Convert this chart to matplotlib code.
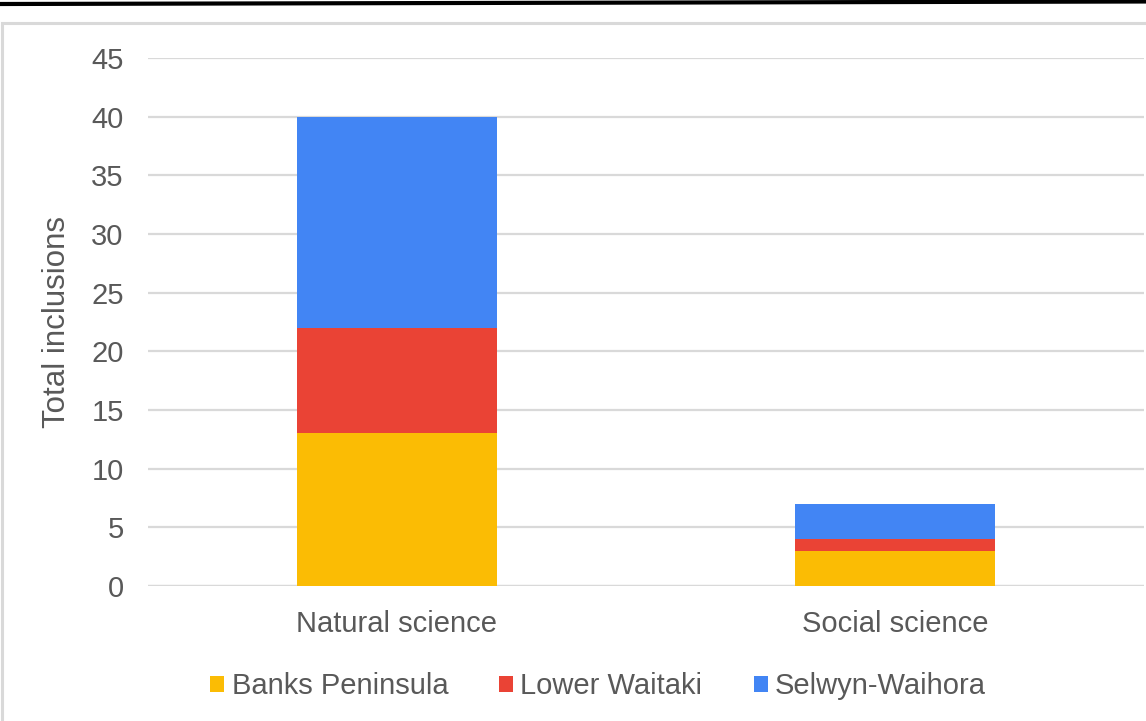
import matplotlib.pyplot as plt
from matplotlib.patches import Patch, Rectangle
from matplotlib.lines import Line2D

categories = ["Natural science", "Social science"]
banks_peninsula = [13, 3]
lower_waitaki = [9, 1]
selwyn_waihora = [18, 3]

series = [
    ("Banks Peninsula", banks_peninsula, "#FBBC04"),
    ("Lower Waitaki", lower_waitaki, "#EA4335"),
    ("Selwyn-Waihora", selwyn_waihora, "#4285F4"),
]

W, H = 1146, 721
text_grey = "#595959"
grid_grey = "#d9d9d9"

plt.rcParams["font.family"] = ["Liberation Sans", "DejaVu Sans"]
plt.rcParams["font.size"] = 21

fig = plt.figure(figsize=(W / 100, H / 100), dpi=100)
ax = fig.add_axes([148 / W, 1 - 586 / H, 996 / W, 528 / H])

x = range(len(categories))
bottom = [0] * len(categories)
for name, vals, color in series:
    ax.bar(x, vals, width=0.4, bottom=bottom, color=color, label=name, zorder=3)
    bottom = [b + v for b, v in zip(bottom, vals)]

ax.set_xlim(-0.5, 1.5)
ax.set_ylim(0, 45)
ax.set_yticks(range(0, 46, 5))
ax.set_xticks(list(x))
ax.set_xticklabels(categories)
ax.yaxis.grid(True, color=grid_grey, linewidth=1.6, zorder=0)
ax.set_axisbelow(True)
for s in ax.spines.values():
    s.set_visible(False)
ax.axhline(0, color=grid_grey, linewidth=1.6, zorder=1)
ax.tick_params(axis="both", length=0, colors=text_grey)
ax.tick_params(axis="y", pad=17.5)
ax.tick_params(axis="x", pad=17.5)

ax.set_ylabel("Total inclusions", color=text_grey, fontsize=22.5)
ax.yaxis.set_label_coords((72 - 148) / 996, 0.5)

handles = [Patch(facecolor=c, edgecolor="none") for _, _, c in series]
fig.legend(handles, [n for n, _, _ in series], loc="center",
           bbox_to_anchor=(598 / W, 1 - 686 / H), ncol=3, frameon=False,
           handlelength=0.48, handleheight=0.48, handletextpad=0.25,
           columnspacing=1.75, labelcolor=text_grey, borderaxespad=0)

# outer frame and the dark rule along the top edge
fig.add_artist(Rectangle((1.5 / W, -0.1), 1.2, 1 - 22.5 / H + 0.1,
                         transform=fig.transFigure, fill=False,
                         edgecolor=grid_grey, linewidth=2.2))
fig.add_artist(Line2D([0, 1], [1 - 4 / H, 1 - 1.5 / H],
                      transform=fig.transFigure, color="black", linewidth=3))

fig.savefig("out.png", dpi=100)
